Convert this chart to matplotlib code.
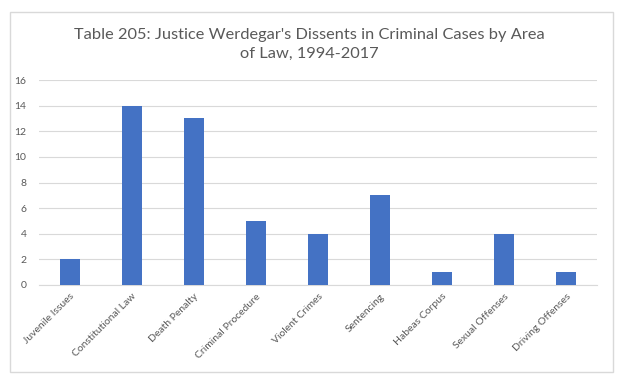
import matplotlib
matplotlib.use("Agg")
import matplotlib.pyplot as plt
from matplotlib.patches import Rectangle

categories = ["Juvenile Issues", "Constitutional Law", "Death Penalty", "Criminal Procedure",
              "Violent Crimes", "Sentencing", "Habeas Corpus", "Sexual Offenses", "Driving Offenses"]
values = [2, 14, 13, 5, 4, 7, 1, 4, 1]
yticks = [0, 2, 4, 6, 8, 10, 12, 14, 16]
title = "Table 205: Justice Werdegar's Dissents in Criminal Cases by Area\nof Law, 1994-2017"

plt.rcParams['font.family'] = ['Lato', 'DejaVu Sans']
W, H = 619, 383
fig = plt.figure(figsize=(W/100, H/100), dpi=100)
fig.patch.set_facecolor('white')
fig.patches.append(Rectangle((10/W, 1-372/H), 603/W, 360/H, transform=fig.transFigure,
                             fill=False, edgecolor='#d9d9d9', linewidth=1))

ax = fig.add_axes([39/W, 1-285/H, (597-39)/W, (285-80)/H])
x = range(len(categories))
ax.bar(x, values, width=0.31, color='#4472C4', zorder=3)
ax.set_ylim(0, 16)
ax.set_xlim(-0.5, len(categories)-0.5)
ax.set_yticks(yticks)
ax.set_yticklabels([str(t) for t in yticks], fontsize=7.5, color='#595959')
ax.set_xticks(list(x))
ax.set_xticklabels(categories, rotation=45, ha='right', rotation_mode='anchor', fontsize=7.5, color='#595959')
ax.grid(axis='y', color='#d9d9d9', linewidth=0.8, zorder=0)
for s in ['top', 'right', 'left']:
    ax.spines[s].set_visible(False)
ax.spines['bottom'].set_color('#d9d9d9')
ax.tick_params(axis='both', length=0)
ax.tick_params(axis='y', pad=9)
ax.tick_params(axis='x', pad=5)

fig.text(0.5, 1-44/H, title, ha='center', va='center', fontsize=11.8, color='#595959', linespacing=1.45)

fig.savefig("out.png", dpi=100)
